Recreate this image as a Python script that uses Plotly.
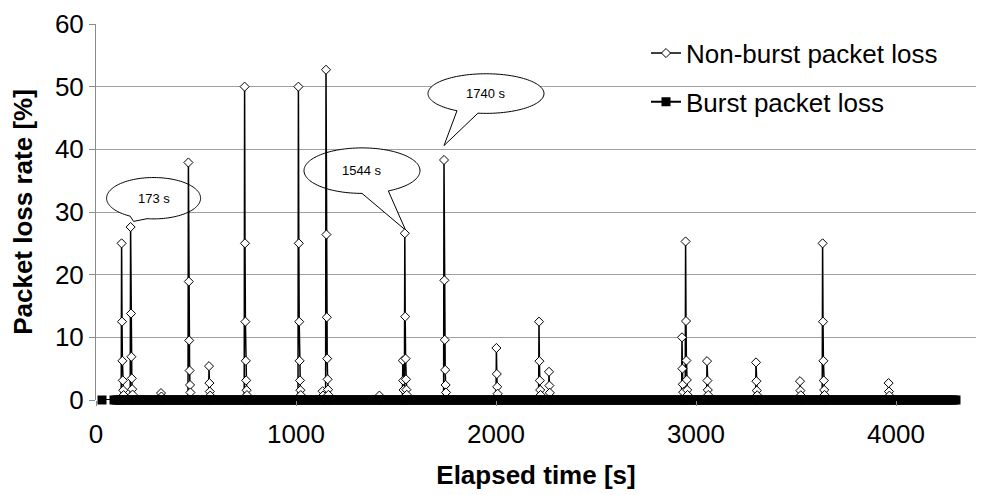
import numpy as np
import plotly.graph_objects as go

FONT = "Liberation Sans, Arial, sans-serif"

# Non-burst loss episodes: start time [s] and the successive loss-rate samples [%]
spike_time = [128, 173, 325, 462, 565, 743, 1012, 1133, 1150, 1417, 1534, 1544,
              1740, 2002, 2215, 2265, 2930, 2948, 3055, 3300, 3520, 3633, 3963]
spike_rate = [
    [25.0, 12.5, 6.25, 3.13, 1.56, 0.78],
    [27.6, 13.8, 6.9, 3.45, 1.72, 0.86],
    [1.1, 0.55],
    [37.9, 18.9, 9.5, 4.7, 2.4, 1.2],
    [5.4, 2.7, 1.35, 0.7],
    [50.0, 25.0, 12.5, 6.25, 3.13, 1.56, 0.78],
    [50.0, 25.0, 12.5, 6.25, 3.13, 1.56, 0.78],
    [1.4, 0.7],
    [52.7, 26.4, 13.2, 6.6, 3.3, 1.65, 0.82],
    [0.7],
    [6.3, 3.1, 1.6],
    [26.6, 13.3, 6.6, 3.3, 1.65, 0.83],
    [38.3, 19.1, 9.6, 4.8, 2.4, 1.2],
    [8.3, 4.15, 2.1, 1.0],
    [12.5, 6.2, 3.1, 1.6, 0.8],
    [4.5, 2.3, 1.15],
    [10.0, 5.0, 2.5, 1.25],
    [25.3, 12.6, 6.3, 3.2, 1.6, 0.8],
    [6.2, 3.1, 1.6, 0.8],
    [6.0, 3.0, 1.5, 0.75],
    [3.0, 1.5, 0.75],
    [25.0, 12.5, 6.25, 3.1, 1.6, 0.8],
    [2.7, 1.35, 0.7],
]
SAMPLE_STEP = 2  # seconds between successive samples

# Burst loss: measured intervals [s] (rate stays at 0 %)
burst_spans = [(30, 30), (90, 4300)]
BURST_STEP = 10

# Callout labels: text, anchor time [s], anchor rate [%]
callout_text = ["173 s", "1544 s", "1740 s"]
callout_tip_t = [188, 1548, 1740]
callout_tip_v = [28.5, 27.1, 40.6]

# ---- assemble series ----
nb_t, nb_v = [], []
for t0, rates in zip(spike_time, spike_rate):
    nb_t.append(t0 - SAMPLE_STEP)
    nb_v.append(0.0)
    for i, r in enumerate(rates):
        nb_t.append(t0 + i * SAMPLE_STEP)
        nb_v.append(r)
    nb_t.append(t0 + len(rates) * SAMPLE_STEP)
    nb_v.append(0.0)

b_t = []
for a, b in burst_spans:
    b_t.extend(range(a, b + 1, BURST_STEP))
b_v = [0.0] * len(b_t)

fig = go.Figure()
fig.add_trace(go.Scatter(
    x=nb_t, y=nb_v, mode="lines+markers", name="Non-burst packet loss",
    line=dict(color="black", width=1.5),
    marker=dict(symbol="diamond", size=7, color="white",
                line=dict(color="black", width=1)),
    legendgroup="a", cliponaxis=False,
))
fig.add_trace(go.Scatter(
    x=b_t, y=b_v, mode="lines+markers", name="Burst packet loss",
    line=dict(color="black", width=2),
    marker=dict(symbol="square", size=9, color="black",
                line=dict(color="black", width=0)),
    legendgroup="b", cliponaxis=False,
))

# ---- speech-bubble callouts ----
bubble_geom = [  # center t, center v, radius t, radius v, wedge base angles
    (288, 32.2, 235, 3.3, 240, 262),
    (1330, 36.6, 290, 3.63, 270, 297),
    (1950, 48.9, 290, 3.16, 240, 262),
]
shapes = []
annotations = []
for (cx, cy, rx, ry, a1, a2), txt, tt, tv in zip(bubble_geom, callout_text,
                                                  callout_tip_t, callout_tip_v):
    ang = np.radians(np.linspace(a2, a1 + 360, 120))
    xs = cx + rx * np.cos(ang)
    ys = cy + ry * np.sin(ang)
    path = f"M{tt},{tv} " + " ".join(f"L{x:.2f},{y:.3f}" for x, y in zip(xs, ys)) + " Z"
    shapes.append(dict(type="path", path=path, xref="x", yref="y",
                       fillcolor="white", line=dict(color="black", width=1),
                       layer="between"))
    annotations.append(dict(x=cx, y=cy, xref="x", yref="y", text=txt,
                            showarrow=False,
                            font=dict(family=FONT, size=13, color="black")))

fig.update_layout(
    width=985, height=495,
    margin=dict(l=96, r=9, t=20, b=95),
    paper_bgcolor="white", plot_bgcolor="white",
    font=dict(family=FONT, size=26, color="black"),
    shapes=shapes, annotations=annotations,
    showlegend=True,
    legend=dict(x=0.625, y=0.985, xanchor="left", yanchor="top",
                bgcolor="rgba(0,0,0,0)", font=dict(size=26),
                tracegroupgap=12, itemwidth=30),
    xaxis=dict(range=[0, 4400], tickvals=[0, 1000, 2000, 3000, 4000],
               showgrid=False, zeroline=False, showline=False,
               ticks="outside", ticklen=5, tickcolor="#8c8c8c",
               tickfont=dict(size=26), ticklabelstandoff=6,
               title=dict(text="<b>Elapsed time [s]</b>", font=dict(size=26),
                          standoff=17)),
    yaxis=dict(range=[0, 60], tickvals=[0, 10, 20, 30, 40, 50, 60],
               showgrid=True, gridcolor="#a0a0a0", gridwidth=1,
               zeroline=False, showline=True, linecolor="#8c8c8c",
               ticks="outside", ticklen=6, tickcolor="#8c8c8c",
               tickfont=dict(size=26),
               title=dict(text="<b>Packet loss rate [%]</b>", font=dict(size=26),
                          standoff=14)),
)

fig.write_html("out.html")
